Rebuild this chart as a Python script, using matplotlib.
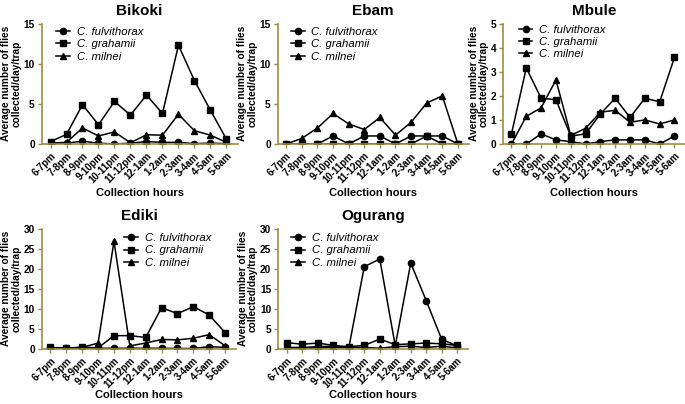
import matplotlib
matplotlib.use("Agg")
import matplotlib.pyplot as plt

plt.rcParams['font.family'] = ['Liberation Sans', 'DejaVu Sans']

hours = ["6-7pm", "7-8pm", "8-9pm", "9-10pm", "10-11pm", "11-12pm",
         "12-1am", "1-2am", "2-3am", "3-4am", "4-5am", "5-6am"]
species = ["C. fulvithorax", "C. grahamii", "C. milnei"]

# Bikoki
bikoki_fulv = [0.05, 0.1, 0.35, 0.1, 0.0, 0.1, 0.3, 0.2, 0.2, 0.05, 0.1, 0.05]
bikoki_grah = [0.3, 1.2, 4.9, 2.4, 5.3, 3.6, 6.1, 3.8, 12.3, 7.9, 4.2, 0.6]
bikoki_miln = [0.1, 0.2, 2.0, 1.0, 1.5, 0.15, 1.15, 1.1, 3.7, 1.65, 1.1, 0.2]

# Ebam
ebam_fulv = [0, 0, 0, 1.0, 0, 1.0, 1.0, 0, 1.0, 1.0, 1.0, 0]
ebam_grah = [0, 0, 0, 0, 0, 0, 0, 0, 0, 1.0, 0, 0]
ebam_miln = [0, 0.7, 2.0, 3.8, 2.5, 1.8, 3.3, 1.1, 2.7, 5.1, 6.0, 0]

# Mbule
mbule_fulv = [0, 0, 0.42, 0.17, 0.1, 0, 0.1, 0.17, 0.17, 0.17, 0, 0.33]
mbule_grah = [0.42, 3.16, 1.9, 1.84, 0.33, 0.42, 1.25, 1.9, 1.1, 1.9, 1.75, 3.6]
mbule_miln = [0, 1.15, 1.5, 2.66, 0.36, 0.65, 1.32, 1.4, 0.9, 1.0, 0.83, 1.0]

# Ediki
ediki_fulv = [0.1, 0.1, 0.1, 0.1, 0.1, 0.1, 0.1, 0.1, 0.05, 0.05, 0.5, 0.3]
ediki_grah = [0.3, 0.15, 0.35, 0.2, 3.25, 3.25, 2.8, 10.25, 8.75, 10.5, 8.4, 4.0]
ediki_miln = [0.1, 0.1, 0.3, 1.4, 26.8, 0.7, 1.4, 2.3, 2.2, 2.6, 3.5, 0.7]

# Ogurang
ogurang_fulv = [0.1, 0.1, 0.2, 0.3, 0.2, 20.5, 22.4, 0.7, 21.4, 12.0, 2.3, 0.7]
ogurang_grah = [1.5, 1.1, 1.4, 0.8, 0.5, 0.8, 2.4, 1.0, 1.2, 1.4, 1.2, 0.8]
ogurang_miln = [0.3, 0.3, 0.5, 0.6, 0.3, 0.3, 0.1, 0.5, 0.6, 0.3, 0.6, 0.2]

axis_col = "#a08c42"
markers = ["o", "s", "^"]

fig = plt.figure(figsize=(6.85, 4.04), dpi=100)

panels = [
    ("Bikoki", [bikoki_fulv, bikoki_grah, bikoki_miln], 15, [0, 5, 10, 15],
     [0.0609, 0.6436, 0.286, 0.298], (0.05, 1.01)),
    ("Ebam", [ebam_fulv, ebam_grah, ebam_miln], 15, [0, 5, 10, 15],
     [0.4054, 0.6436, 0.279, 0.298], (0.045, 1.01)),
    ("Mbule", [mbule_fulv, mbule_grah, mbule_miln], 5, [0, 1, 2, 3, 4, 5],
     [0.7348, 0.6436, 0.265, 0.298], (0.06, 1.03)),
    ("Ediki", [ediki_fulv, ediki_grah, ediki_miln], 30, [0, 5, 10, 15, 20, 25, 30],
     [0.0609, 0.137, 0.284, 0.297], (0.40, 1.0)),
    ("Ogurang", [ogurang_fulv, ogurang_grah, ogurang_miln], 30, [0, 5, 10, 15, 20, 25, 30],
     [0.4063, 0.137, 0.277, 0.297], (0.045, 1.0)),
]

for i, (name, series, ymax, yticks, pos, legpos) in enumerate(panels):
    ax = fig.add_axes(pos)
    x = list(range(len(hours)))
    for vals, mk, lab in zip(series, markers, species):
        ax.plot(x, vals, color="black", lw=1.1, marker=mk, ms=4.5, label=lab)
    ax.set_xlim(-0.55, 11.7)
    ax.set_ylim(0, ymax)
    ax.set_yticks(yticks)
    ax.set_xticks(x)
    ax.set_xticklabels(hours, rotation=45, ha="right", rotation_mode="anchor",
                       fontsize=7, fontweight="bold")
    for t in ax.get_yticklabels():
        t.set_fontweight("bold")
        t.set_fontsize(7.3)
    for s in ["top", "right"]:
        ax.spines[s].set_visible(False)
    for s in ["left", "bottom"]:
        ax.spines[s].set_color(axis_col)
        ax.spines[s].set_linewidth(1.2)
    ax.tick_params(colors=axis_col, labelcolor="black", length=3, width=1, pad=2)
    ax.set_title(name, fontsize=11, fontweight="bold", pad=6)
    ax.set_xlabel("Collection hours", fontsize=8, fontweight="bold",
                  labelpad=2 if i < 3 else 0)
    ax.set_ylabel("Average number of flies\ncollected/day/trap", fontsize=7.3,
                  fontweight="bold", labelpad=1.5, linespacing=1.0)
    leg = ax.legend(loc="upper left", bbox_to_anchor=legpos, frameon=False,
                    fontsize=8.2, handlelength=1.2, handletextpad=0.6,
                    labelspacing=0.2, borderaxespad=0)
    for t in leg.get_texts():
        t.set_fontstyle("italic")

fig.savefig("out.png", dpi=100)
